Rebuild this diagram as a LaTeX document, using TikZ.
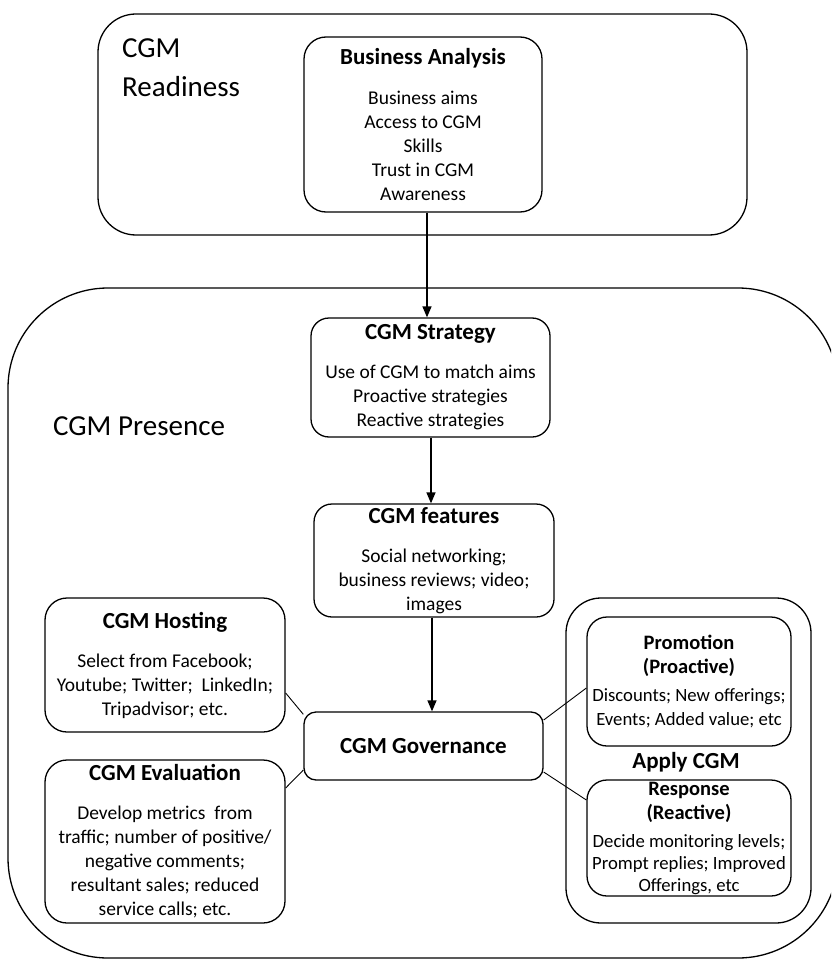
\documentclass[tikz,border=0pt]{standalone}
\usepackage{fontspec}
\setmainfont{Carlito}
\usetikzlibrary{arrows.meta}
\newcommand\bodyf{\fontsize{19.5}{24}\selectfont}
\newcommand\smallbodyf{\fontsize{18.7}{24}\selectfont}
\newcommand\headf{\fontsize{23}{24}\selectfont\bfseries}
\newcommand\subhf{\fontsize{20.5}{24}\selectfont\bfseries}
\newcommand\bigf{\fontsize{29}{39}\selectfont}
\begin{document}
\begin{tikzpicture}[x=1pt,y=-1pt,
  box/.style={draw, line width=1.3pt, rounded corners=#1, align=center, inner sep=0pt, font=\bodyf},
  box/.default=20pt,
  arr/.style={line width=1.3pt, -{Triangle[length=11pt,width=9pt]}},
  conn/.style={line width=0.9pt},
  lbl/.style={inner sep=0pt}]
\useasboundingbox (0,0) rectangle (831,960);
\clip (0,0) rectangle (831,960);
% containers
\node[box=38pt, minimum width=649pt, minimum height=221pt] (ready) at (422.5,124.5) {};
\node[box=100pt, minimum width=830pt, minimum height=670pt] (presence) at (423,623) {};
\node[box=35pt, minimum width=245pt, minimum height=325pt] (apply) at (688.5,760.5) {};
% labels of containers
\node[lbl, anchor=base west, align=left, font=\bigf] (readylbl) at (122,97) {CGM\\Readiness};
\node[lbl, anchor=base west, font=\bigf] (presencelbl) at (53,435) {CGM Presence};
\node[lbl, font=\headf] (applylbl) at (686,762) {Apply CGM};
% boxes
\node[box=22pt, minimum width=238pt, minimum height=175pt] (ba) at (423,124.5)
  {{\headf Business Analysis}\\[16pt]Business aims\\Access to CGM\\Skills\\Trust in CGM\\Awareness};
\node[box=18pt, minimum width=239pt, minimum height=119pt] (st) at (430.5,377.5)
  {{\headf CGM Strategy}\\[15pt]Use of CGM to match aims\\Proactive strategies\\Reactive strategies};
\node[box=18pt, minimum width=240pt, minimum height=113pt] (feat) at (434,560.5)
  {{\headf CGM features}\\[15pt]Social networking;\\business reviews; video;\\images};
\node[box=12pt, minimum width=239pt, minimum height=68pt] (gov) at (423.5,746)
  {{\headf CGM Governance}};
\node[box=22pt, minimum width=240pt, minimum height=134pt] (host) at (165,665)
  {{\headf CGM Hosting}\\[15pt]Select from Facebook;\\Youtube; Twitter;\ \ LinkedIn;\\Tripadvisor; etc.};
\node[box=22pt, minimum width=240pt, minimum height=163pt] (eval) at (165,841.5)
  {{\headf CGM Evaluation}\\[15pt]Develop metrics\ \ from\\traffic; number of positive/\\negative comments;\\resultant sales; reduced\\service calls; etc.};
\node[box=20pt, minimum width=204pt, minimum height=129pt, font=\smallbodyf] (promo) at (689,681.5)
  {{\subhf Promotion}\\{\subhf (Proactive)}\\[4pt]Discounts; New offerings;\\Events; Added value; etc};
\node[box=20pt, minimum width=204pt, minimum height=116pt, font=\smallbodyf] (resp) at (689,838)
  {{\subhf Response}\\{\subhf (Reactive)}\\[4pt]Decide monitoring levels;\\[-2pt]Prompt replies; Improved\\[-2pt]Offerings, etc};
% arrows
\draw[arr] ([xshift=4pt]ba.south) -- ([xshift=4pt]ba.south |- st.north);
\draw[arr] ([xshift=0.5pt]st.south) -- ([xshift=0.5pt]st.south |- feat.north);
\draw[arr] ([xshift=-2pt]feat.south) -- ([xshift=-2pt]feat.south |- gov.north);
% connectors
\draw[conn] ([yshift=-28pt]host.east) -- ([yshift=-3pt]gov.north west);
\draw[conn] ([yshift=53.5pt]eval.east) -- ([yshift=-24pt]gov.west);
\draw[conn] ([yshift=26pt]gov.east) -- ([yshift=-6.5pt]promo.west);
\draw[conn] ([yshift=-26pt]gov.east) -- ([yshift=38pt]resp.west);
\end{tikzpicture}
\end{document}
